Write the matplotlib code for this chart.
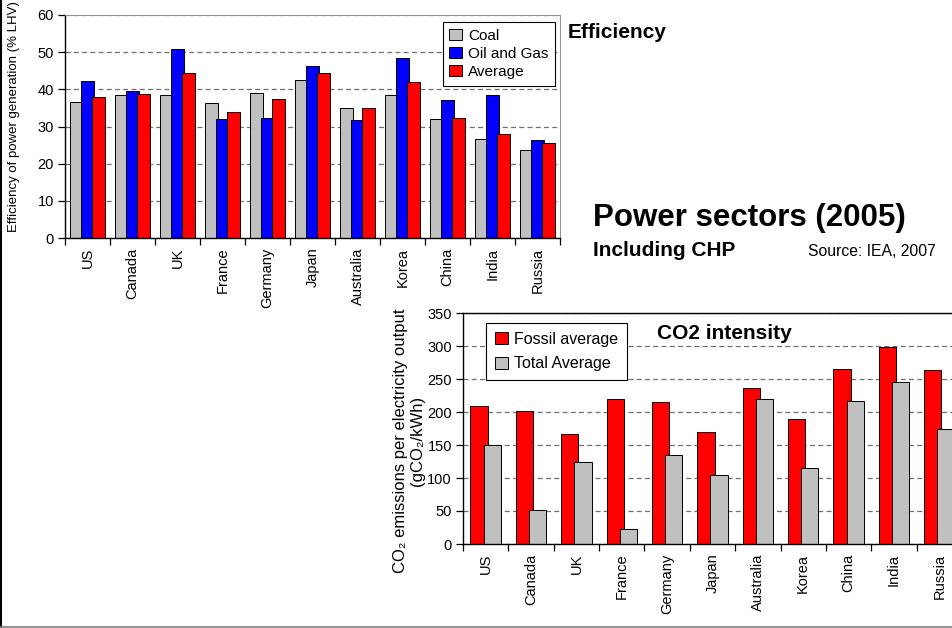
import numpy as np
import matplotlib
matplotlib.use("Agg")
import matplotlib.pyplot as plt
from matplotlib.lines import Line2D

plt.rcParams["font.family"] = ["Liberation Sans", "DejaVu Sans"]

# 国家与数据 (IEA, 2005)
countries = ["US", "Canada", "UK", "France", "Germany", "Japan",
             "Australia", "Korea", "China", "India", "Russia"]

eff_coal = [36.6, 38.6, 38.6, 36.3, 38.9, 42.4, 35.1, 38.6, 32.1, 26.6, 23.6]
eff_oil_gas = [42.3, 39.5, 50.9, 32.0, 32.4, 46.2, 31.8, 48.5, 37.2, 38.4, 26.4]
eff_average = [38.0, 38.8, 44.3, 34.0, 37.5, 44.3, 34.9, 42.0, 32.4, 28.1, 25.5]

co2_fossil = [209, 202, 166, 219, 215, 169, 237, 189, 265, 299, 263]
co2_total = [150, 51, 124, 23, 135, 105, 219, 115, 217, 245, 174]

GRAY = "#C0C0C0"
BLUE = "#0000FF"
RED = "#FF0000"
GRID = dict(color="#707070", linewidth=0.9, linestyle=(0, (4, 2.6)))

fig = plt.figure(figsize=(9.52, 6.28), dpi=100)
W, H = 952, 628


def px_axes(left, top, right, bottom):
    return fig.add_axes([left / W, 1 - bottom / H, (right - left) / W, (bottom - top) / H])


def style_axes(ax, ymax, ystep):
    n = len(countries)
    x = np.arange(n)
    ax.set_xlim(-0.5, n - 0.5)
    ax.set_ylim(0, ymax)
    ax.set_yticks(np.arange(0, ymax + 1, ystep))
    ax.set_xticks(x)
    ax.set_xticklabels(countries, rotation=90, fontsize=10.5)
    ax.set_xticks(np.arange(-0.5, n), minor=True)
    ax.tick_params(axis="x", which="major", length=0, pad=7)
    ax.tick_params(axis="x", which="minor", length=5, direction="out", width=0.9)
    ax.tick_params(axis="y", length=5, direction="out", width=0.9, labelsize=10.5, pad=3)
    ax.set_axisbelow(True)
    ax.yaxis.grid(True, **GRID)
    for s in ("left", "bottom"):
        ax.spines[s].set_linewidth(1.0)


def box_legend(ax, anchor, loc, size, spacing, pad):
    leg = ax.legend(loc=loc, bbox_to_anchor=anchor, borderaxespad=0,
                    fontsize=size, frameon=True, fancybox=False, handlelength=0.8,
                    handleheight=0.8, handletextpad=0.4, labelspacing=spacing,
                    borderpad=pad)
    leg.get_frame().set_edgecolor("black")
    leg.get_frame().set_linewidth(0.8)
    leg.get_frame().set_alpha(1)
    return leg


# 发电效率
ax1 = px_axes(65, 15, 560, 238)
x = np.arange(len(countries))
w1, d1 = 0.29, 0.245
bar_kw = dict(edgecolor="black", linewidth=0.7)
ax1.bar(x - d1, eff_coal, w1, color=GRAY, label="Coal", **bar_kw)
ax1.bar(x, eff_oil_gas, w1, color=BLUE, label="Oil and Gas", **bar_kw)
ax1.bar(x + d1, eff_average, w1, color=RED, label="Average", **bar_kw)
style_axes(ax1, 60, 10)
for s in ("top", "right"):
    ax1.spines[s].set_color("#909090")
    ax1.spines[s].set_linewidth(0.7)
box_legend(ax1, (0.99, 0.97), "upper right", 11, 0.25, 0.45)

fig.text(14 / W, 1 - 117 / H, "Efficiency of power generation (% LHV)",
         rotation=90, ha="center", va="center", fontsize=9.5)

# CO2 强度
ax2 = px_axes(463, 313, 962, 544)
w2, d2 = 0.38, 0.145
ax2.bar(x - d2, co2_fossil, w2, color=RED, label="Fossil average", **bar_kw)
ax2.bar(x + d2, co2_total, w2, color=GRAY, label="Total Average", **bar_kw)
style_axes(ax2, 350, 50)
ax2.spines["top"].set_linewidth(1.0)
box_legend(ax2, (0.046, 0.957), "upper left", 11.5, 0.6, 0.55)

fig.text(409 / W, 1 - 441 / H,
         "CO\u2082 emissions per electricity output\n(gCO\u2082/kWh)",
         rotation=90, ha="center", va="center", fontsize=12,
         multialignment="center", linespacing=1.2)

# 标题文字
fig.text(568 / W, 1 - 33 / H, "Efficiency", fontsize=15, fontweight="bold", va="center")
fig.text(657 / W, 1 - 333 / H, "CO2 intensity", fontsize=15, fontweight="bold", va="center")
fig.text(593 / W, 1 - 218 / H, "Power sectors (2005)", fontsize=22.5, fontweight="bold", va="center")
fig.text(593 / W, 1 - 250 / H, "Including CHP", fontsize=15, fontweight="bold", va="center")
fig.text(808 / W, 1 - 252 / H, "Source: IEA, 2007", fontsize=11.3, va="center")

# 外框
fig.add_artist(Line2D([0.5 / W, 0.5 / W], [1 / H, 1], transform=fig.transFigure,
                      color="black", linewidth=1.5))
fig.add_artist(Line2D([0, 1], [1 / H, 1 / H], transform=fig.transFigure,
                      color="#808080", linewidth=1.2))

fig.savefig("out.png", dpi=100, facecolor="white")
